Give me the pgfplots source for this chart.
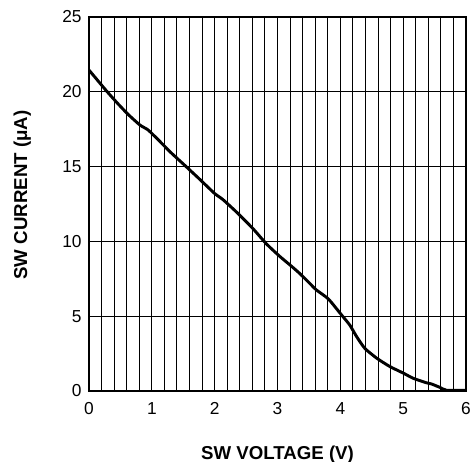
\documentclass[border=0pt]{standalone}
\usepackage{fontspec}
\setmainfont{Liberation Sans}
\usepackage{pgfplots}
\pgfplotsset{compat=1.18}

\begin{document}
\begin{tikzpicture}
    \begin{axis}[
        scale only axis,
        width=282.75pt,
        height=280.5pt,
        xmin=0, xmax=6,
        ymin=0, ymax=25,
        xtick={0,1,...,6},
        ytick={0,5,...,25},
        minor x tick num=4,
        xmajorgrids, xminorgrids, ymajorgrids,
        major grid style={black, line width=0.7pt},
        minor grid style={black, line width=0.7pt},
        major tick length=0pt,
        minor tick length=0pt,
        axis line style={line width=1.1pt},
        /pgf/number format/assume math mode=true,
        ticklabel style={font=\fontsize{13}{15}\selectfont},
        xticklabel style={yshift=-5pt},
        yticklabel style={xshift=-2pt},
        xlabel={SW VOLTAGE (V)},
        ylabel={SW CURRENT (μA)},
        label style={font=\fontsize{14}{16}\selectfont\bfseries},
        xlabel style={at={(axis description cs:0.5,0)}, anchor=base, yshift=-51.75pt},
        ylabel style={at={(axis description cs:-0.177,0.524)}, anchor=center},
    ]
    \coordinate (sw) at (rel axis cs:0,0);
    \coordinate (ne) at (rel axis cs:1,1);
    % SW current vs. SW voltage
    \addplot[black, line width=2.2pt, mark=none, smooth, tension=0.35, line join=round] coordinates {
        (0.00,21.45) (0.10,20.95) (0.28,20.05) (0.45,19.25) (0.62,18.50)
        (0.81,17.78) (0.94,17.45) (1.10,16.80) (1.30,15.95) (1.52,15.10)
        (1.75,14.20) (2.00,13.20) (2.13,12.80) (2.35,11.95) (2.61,10.85)
        (2.82,9.85) (3.03,9.02) (3.20,8.42) (3.35,7.87) (3.50,7.25)
        (3.62,6.75) (3.81,6.15) (4.02,5.08) (4.15,4.41) (4.26,3.63)
        (4.39,2.85) (4.58,2.19) (4.79,1.63) (5.00,1.20) (5.16,0.85)
        (5.37,0.55) (5.45,0.47) (5.58,0.25) (5.69,0.05) (6.00,0.05)
    };
    \end{axis}
    \pgfresetboundingbox
    \path[use as bounding box] ([xshift=-66.75pt,yshift=-53.25pt]sw) rectangle ([xshift=3pt,yshift=12.75pt]ne);
\end{tikzpicture}
\end{document}
